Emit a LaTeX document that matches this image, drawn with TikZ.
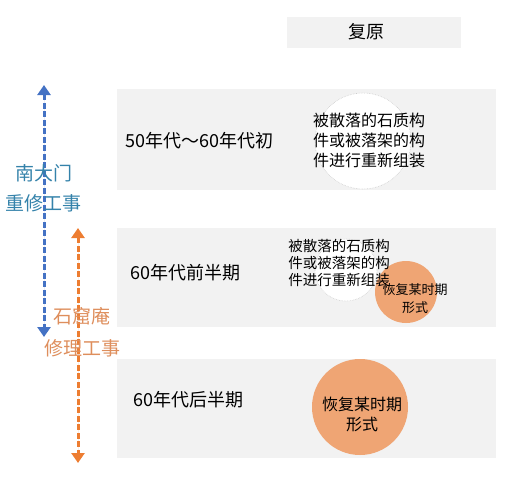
\documentclass[tikz,border=0pt]{standalone}
\usepackage{fontspec}
\setmainfont{Noto Sans CJK SC}
\usepackage{tikz}
\usetikzlibrary{shapes}
\usetikzlibrary{positioning}
\usetikzlibrary{arrows.meta}
\definecolor{bandgray}{RGB}{242,242,242}
\definecolor{ringgray}{RGB}{205,205,205}
\definecolor{peach}{RGB}{239,165,116}
\definecolor{spanblue}{RGB}{68,114,196}
\definecolor{spanorange}{RGB}{237,125,49}
\definecolor{textblue}{RGB}{52,130,170}
\definecolor{textorange}{RGB}{222,142,92}
\tikzstyle{band} = [rectangle, fill=bandgray, draw=none, inner sep=0pt]
\tikzstyle{period} = [anchor=west, inner sep=0pt, font=\fontsize{18}{20}\selectfont]
\tikzstyle{ghost} = [circle, fill=white, draw=ringgray, densely dotted, line width=0.6pt, inner sep=0pt]
\tikzstyle{fullmoon} = [circle, fill=peach, draw=none, inner sep=0pt]
\tikzstyle{note} = [align=center, inner sep=0pt]
\tikzstyle{works} = [inner sep=0pt, font=\fontsize{19}{20}\selectfont]
\tikzstyle{spanline} = [line width=3pt, dash pattern=on 6pt off 2.5pt]
\tikzset{>={Triangle[width=13pt,length=10pt]}}
\newcommand{\dashspan}[3]{ %
  % Dashed two-headed arrow from #2 to #3 in colour #1.
  \path (#2) edge [<->,spanline,draw=#1,fill=#1] (#3) ;%
}

\begin{document}
\begin{tikzpicture}[x=1pt,y=-1pt]
                \useasboundingbox (0,0) rectangle (516,480);
                \node[band, minimum width=174pt, minimum height=31pt] (hdr) at (374,32) {} ; %
                \node[inner sep=0pt, font=\fontsize{18}{20}\selectfont] (nhdr) at (366,32) {复原} ; %

                \node[band, minimum width=379pt, minimum height=101pt] (b1) at (306.5,139.5) {} ; %
                \node[band, minimum width=379pt, minimum height=99pt] (b2) at (306.5,277.5) {} ; %
                \node[band, minimum width=379pt, minimum height=99pt] (b3) at (306.5,408.5) {} ; %

                \node[period] (nb1) at (125,141) {50年代～60年代初} ; %
                \node[period] (nb2) at (130,273) {60年代前半期} ; %
                \node[period] (nb3) at (133,400) {60年代后半期} ; %

                \node[ghost, minimum size=96pt] (g1) at (363,141) {} ; %
                \node[ghost, minimum size=62pt] (g2) at (346,270) {} ; %
                \node[fullmoon, minimum size=62pt] (m2) at (406,292) {} ; %
                \node[fullmoon, minimum size=96pt] (m3) at (360,407) {} ; %

                \node[note, font=\fontsize{16}{20}\selectfont] (ng1) at (369,140) {被散落的石质构\\件或被落架的构\\件进行重新组装} ; %
                \node[note, font=\fontsize{14.5}{17}\selectfont] (ng2) at (339,263) {被散落的石质构\\件或被落架的构\\件进行重新组装} ; %
                \node[note, font=\fontsize{13}{18}\selectfont] (nm2) at (415,299) {恢复某时期\\形式} ; %
                \node[note, font=\fontsize{16}{20}\selectfont] (nm3) at (362,414) {恢复某时期\\形式} ; %

                \coordinate (blueTop) at (44,85) ;
                \coordinate (blueBot) at (44,337) ;
                \coordinate (orangeTop) at (78,228) ;
                \coordinate (orangeBot) at (78,463) ;
                \dashspan{spanblue}{blueTop}{blueBot}
                \dashspan{spanorange}{orangeTop}{orangeBot}

                \node[works, text=textblue] (w1a) at (43.5,173) {南大门} ; %
                \node[works, text=textblue] (w1b) at (43.5,203) {重修工事} ; %
                \node[works, text=textorange] (w2a) at (81.5,316) {石窟庵} ; %
                \node[works, text=textorange] (w2b) at (82.5,348) {修理工事} ; %
\end{tikzpicture}
\end{document}
